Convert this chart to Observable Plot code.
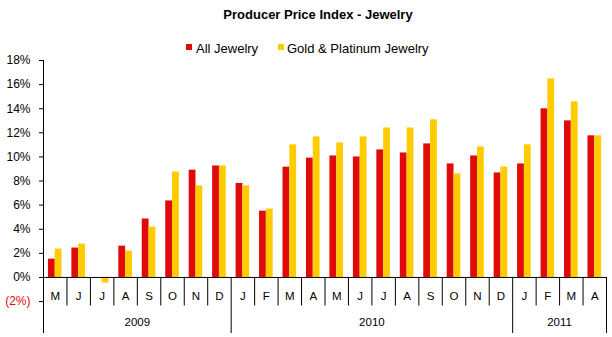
<!DOCTYPE html>
<html>
<head>
<meta charset="utf-8">
<script src="https://cdn.jsdelivr.net/npm/d3@7"></script>
<script src="https://cdn.jsdelivr.net/npm/@observablehq/plot@0.6"></script>
<style>
  html, body { margin: 0; padding: 0; background: #fff; }
  #wrap { position: relative; width: 612px; height: 337px; font-family: "Liberation Sans", Arial, sans-serif; color: #000; background: #fff; }
  #title { position: absolute; z-index: 2; top: 7px; left: 24px; width: 588px; text-align: center; font-weight: bold; font-size: 13px; line-height: 15px; }
  .lg { position: absolute; z-index: 2; font-size: 13px; line-height: 15px; white-space: nowrap; }
  .sw { position: absolute; z-index: 2; width: 6px; height: 6px; }
  #chart { position: absolute; z-index: 1; top: 48px; left: 0; }
</style>
</head>
<body>
<div id="wrap">
  <div id="chart"></div>
  <div id="title">Producer Price Index - Jewelry</div>
  <div class="sw" id="sw1" style="left:186px;top:44px;"></div>
  <div class="lg" id="lg1" style="left:196px;top:41px;"></div>
  <div class="sw" id="sw2" style="left:278px;top:44px;"></div>
  <div class="lg" id="lg2" style="left:287px;top:41px;"></div>
</div>
<script>
const months = ["M","J","J","A","S","O","N","D","J","F","M","A","M","J","J","A","S","O","N","D","J","F","M","A"];
const years = [2009,2009,2009,2009,2009,2009,2009,2009,
               2010,2010,2010,2010,2010,2010,2010,2010,2010,2010,2010,2010,
               2011,2011,2011,2011];
const allJewelry = [1.52, 2.44, 0, 2.6, 4.85, 6.35, 8.9, 9.25,
                    7.8, 5.5, 9.15, 9.9, 10.08, 10.0, 10.58, 10.33, 11.08, 9.42, 10.08, 8.67,
                    9.42, 13.99, 12.99, 11.75];
const goldPlatinum = [2.35, 2.77, -0.47, 2.19, 4.18, 8.75, 7.6, 9.25,
                      7.6, 5.68, 11.0, 11.66, 11.16, 11.66, 12.4, 12.4, 13.08, 8.59, 10.83, 9.17,
                      11.0, 16.48, 14.57, 11.75];
const seriesNames = ["All Jewelry", "Gold & Platinum Jewelry"];
const yTicks = [-2, 0, 2, 4, 6, 8, 10, 12, 14, 16, 18];

const RED = "#e00a0a", YELLOW = "#ffcc00";

document.getElementById("sw1").style.background = RED;
document.getElementById("sw2").style.background = YELLOW;
document.getElementById("lg1").textContent = seriesNames[0];
document.getElementById("lg2").textContent = seriesNames[1];

const n = months.length;
const data = months.map((m, i) => ({i, month: m, year: years[i], all: allJewelry[i], gold: goldPlatinum[i]}));
const yMin = -4.65;
const half = 0.29;

// boundaries after each month
const seps = data.map((d, k) => ({b: d.i + 0.5, yearEnd: k === n - 1 || years[k + 1] !== years[k]}));
const yearGroups = d3.groups(data, d => d.year).map(([y, arr]) => ({year: y, x: d3.mean(arr, d => d.i)}));

const fmt = d => d < 0 ? `(${-d}%)` : `${d}%`;

const chart = Plot.plot({
  width: 612,
  height: 289,
  marginTop: 12,
  marginBottom: 4,
  marginLeft: 43,
  marginRight: 6,
  style: {fontFamily: "'Liberation Sans', Arial, sans-serif", fontSize: "11px", color: "#000", background: "transparent"},
  x: {type: "linear", domain: [-0.5, n - 0.5], axis: null},
  y: {domain: [yMin, 18], axis: null},
  marks: [
    Plot.rectY(data, {x1: d => d.i - half, x2: d => d.i, y1: 0, y2: "all", fill: RED}),
    Plot.rectY(data, {x1: d => d.i, x2: d => d.i + half, y1: 0, y2: "gold", fill: YELLOW}),
    Plot.ruleY([0], {stroke: "#000"}),
    Plot.ruleX([-0.5], {stroke: "#000"}),
    Plot.ruleX(seps.filter(s => !s.yearEnd), {x: "b", y1: 0, y2: -2.37, stroke: "#000"}),
    Plot.ruleX(seps.filter(s => s.yearEnd), {x: "b", y1: 0, y2: yMin, stroke: "#000"}),
    Plot.text(data, {x: "i", y: -1.55, text: "month", fill: "#000", fontSize: 11.5}),
    Plot.text(yearGroups, {x: "x", y: -3.7, text: d => String(d.year), fill: "#000", fontSize: 11.5}),
    Plot.axisY(yTicks.filter(t => t >= 0), {tickSize: 4, tickPadding: 9, tickFormat: fmt, label: null, fill: "#000", fontSize: 12}),
    Plot.axisY(yTicks.filter(t => t < 0), {tickSize: 4, tickPadding: 9, tickFormat: fmt, label: null, fill: RED, stroke: "#000", fontSize: 12})
  ]
});
document.getElementById("chart").appendChild(chart);
</script>
</body>
</html>
